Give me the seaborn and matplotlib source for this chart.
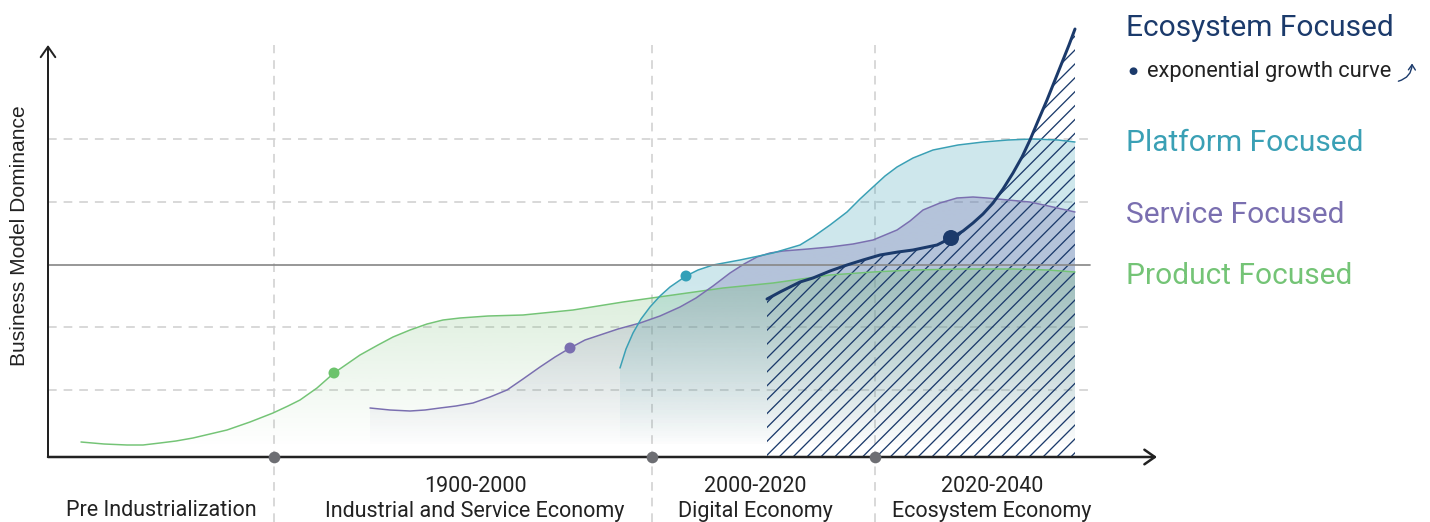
import numpy as np
import pandas as pd
import matplotlib
matplotlib.use("Agg")
import matplotlib.pyplot as plt
import seaborn as sns
from matplotlib.colors import to_rgb

# ---------------- data (timeline position, business-model dominance) ----------------
product_x = [33, 56, 79, 95, 112, 128, 145, 162, 179, 202, 225, 240, 252, 269, 286, 312,
             330, 345, 362, 379, 395, 412, 440, 475, 525, 575, 625, 675, 725, 782, 825,
             865, 915, 965, 1000, 1027]
product_y = [15, 13, 12, 12, 14, 16, 19, 23, 27, 35, 44, 51, 57, 69, 84, 102,
             112, 120, 127, 133, 137, 139, 141, 142, 147, 155, 162, 169, 174, 182, 185,
             187, 188, 188, 187, 185]

service_x = [322, 342, 362, 377, 392, 408, 425, 442, 459, 475, 492, 507, 522, 537, 552,
             570, 592, 612, 632, 648, 665, 682, 696, 709, 722, 735, 760, 782, 805, 825,
             849, 862, 875, 892, 909, 925, 939, 960, 982, 1005, 1027]
service_y = [49, 47, 46, 47, 49, 51, 54, 60, 67, 78, 90, 100, 109, 117, 122,
             128, 134, 141, 150, 159, 171, 184, 193, 200, 204, 206, 208, 210, 213, 217,
             227, 236, 247, 254, 259, 260, 259, 257, 255, 250, 245]

platform_x = [572, 578, 585, 593, 602, 612, 622, 638, 650, 665, 692, 725, 752, 765, 782,
              799, 812, 825, 837, 849, 865, 885, 910, 935, 960, 985, 1010, 1027]
platform_y = [89, 108, 124, 138, 150, 161, 170, 181, 187, 192, 197, 204, 212, 220, 232,
              245, 258, 270, 281, 290, 299, 307, 312, 315, 317, 318, 317, 315]

ecosystem_x = [719, 732, 752, 765, 782, 799, 815, 832, 850, 865, 889, 903, 915, 925, 935,
               945, 955, 965, 974, 982, 990, 999, 1007, 1015, 1021, 1027]
ecosystem_y = [158, 165, 175, 179, 186, 192, 197, 202, 205, 207, 212, 219, 226, 234, 243,
               254, 268, 284, 300, 317, 336, 357, 377, 397, 412, 428]

marker_series = ["Product", "Service", "Platform", "Ecosystem"]
marker_x = [286, 522, 638, 903]
marker_y = [84, 109, 181, 219]

era_bounds = [226, 604, 827]
era_years = ["", "1900-2000", "2000-2020", "2020-2040"]
era_names = ["Pre Industrialization", "Industrial and Service Economy",
             "Digital Economy", "Ecosystem Economy"]
grid_levels = [67, 130, 255, 318]
mid_level = 192

legend_labels = ["Ecosystem Focused", "Platform Focused", "Service Focused", "Product Focused"]
sub_label = "exponential growth curve"
y_label = "Business Model Dominance"

# ---------------- style ----------------
C_PROD = "#74c476"
C_SERV = "#7a6fb0"
C_PLAT = "#3aa0b5"
C_ECO = "#1b3a6b"
C_TXT = "#222222"

sns.set_theme(style="white")
plt.rcParams["font.family"] = ["Roboto", "DejaVu Sans"]
plt.rcParams["hatch.linewidth"] = 0.75

DPI = 125
W, H = 1430, 522
fig = plt.figure(figsize=(W / DPI, H / DPI), dpi=DPI)
L, R, T, B = 48, 1175, 15, 457
ax = fig.add_axes([L / W, (H - B) / H, (R - L) / W, (B - T) / H])
ax.set_xlim(0, R - L)
ax.set_ylim(0, B - T)
ax.axis("off")

X_END = 1109   # x axis arrow tip
Y_END = 412    # y axis arrow tip


def gradient_fill(xs, ys, color, amax, z):
    poly = ax.fill_between(xs, 0, ys, facecolor="none", edgecolor="none", zorder=z)
    n = 256
    yy = np.linspace(0, 442, n)
    a = amax * np.clip((yy - 10) / (175 - 10), 0, 1)
    img = np.zeros((n, 1, 4))
    img[:, 0, :3] = to_rgb(color)
    img[:, 0, 3] = a
    im = ax.imshow(img, extent=[min(xs), max(xs), 0, 442], origin="lower",
                   aspect="auto", zorder=z, interpolation="bilinear")
    im.set_clip_path(poly.get_paths()[0], ax.transData)


# grid
for lv in grid_levels:
    ax.plot([0, 1042], [lv, lv], color="#d4d4d4", lw=1.0, ls=(0, (5, 4)), zorder=0.5)
ax.plot([0, 1042], [mid_level, mid_level], color="#8a8a8a", lw=1.0, zorder=6)
for xb in era_bounds:
    ax.plot([xb, xb], [-65, Y_END], color="#d4d4d4", lw=1.0, ls=(0, (5, 4)),
            zorder=0.5, clip_on=False)

# fills
gradient_fill(platform_x, platform_y, C_PLAT, 0.25, 1)
gradient_fill(service_x, service_y, C_SERV, 0.30, 2)
gradient_fill(product_x, product_y, "#6cb86c", 0.25, 3)

# hatch under ecosystem curve
ax.fill_between(ecosystem_x, 0, ecosystem_y, facecolor="none", edgecolor=C_ECO,
                hatch="///", linewidth=0, zorder=4)

# lines
lw_thin = 1.5 * 72 / DPI
sns.lineplot(x=product_x, y=product_y, color=C_PROD, lw=lw_thin, ax=ax, zorder=5)
sns.lineplot(x=service_x, y=service_y, color=C_SERV, lw=lw_thin, ax=ax, zorder=5)
sns.lineplot(x=platform_x, y=platform_y, color=C_PLAT, lw=lw_thin, ax=ax, zorder=5)
sns.lineplot(x=ecosystem_x, y=ecosystem_y, color=C_ECO, lw=3 * 72 / DPI, ax=ax, zorder=7)

mk = pd.DataFrame({"series": marker_series, "x": marker_x, "y": marker_y})
pal = {"Product": "#6cc36c", "Service": C_SERV, "Platform": "#34a0b8", "Ecosystem": C_ECO}
sizes = {"Product": 40, "Service": 40, "Platform": 40, "Ecosystem": 85}
sns.scatterplot(data=mk, x="x", y="y", hue="series", palette=pal, size="series",
                sizes=sizes, linewidth=0, legend=False, ax=ax, zorder=8)

# axes arrows
ax.annotate("", xy=(X_END, 0), xytext=(0, 0),
            arrowprops=dict(arrowstyle="->,head_length=0.5,head_width=0.35",
                            color=C_TXT, lw=2.5 * 72 / DPI, shrinkA=0, shrinkB=0),
            zorder=9, annotation_clip=False)
ax.annotate("", xy=(0, Y_END), xytext=(0, 0),
            arrowprops=dict(arrowstyle="->,head_length=0.5,head_width=0.35",
                            color=C_TXT, lw=2 * 72 / DPI, shrinkA=0, shrinkB=0),
            zorder=9, annotation_clip=False)
sns.scatterplot(x=era_bounds, y=[0] * len(era_bounds), color="#6d6e73", s=45,
                linewidth=0, ax=ax, zorder=10, clip_on=False)

# texts
def fx(px):
    return px / W


def fy(py):
    return 1 - py / H


fs_bottom = 12.4
fig.text(fx(161), fy(511), era_names[0], ha="center", va="center", fontsize=fs_bottom, color=C_TXT)
for cx, yr, nm in zip([475, 755, 992], era_years[1:], era_names[1:]):
    fig.text(fx(cx), fy(486), yr, ha="center", va="center", fontsize=fs_bottom, color=C_TXT)
    fig.text(fx(cx), fy(511), nm, ha="center", va="center", fontsize=fs_bottom, color=C_TXT)

fig.text(fx(20), fy(236), y_label, rotation=90, ha="center", va="center",
         fontsize=12.1, color=C_TXT, family=["Liberation Sans", "DejaVu Sans"])

fs_leg = 17.2
leg_y = [28, 143, 215, 276]
leg_c = [C_ECO, C_PLAT, C_SERV, C_PROD]
for lab, yy, cc in zip(legend_labels, leg_y, leg_c):
    fig.text(fx(1126), fy(yy), lab, ha="left", va="center", fontsize=fs_leg, color=cc)
fig.text(fx(1133), fy(71), "\u25CF", ha="center", va="center", fontsize=6, color=C_ECO)
fig.text(fx(1147), fy(71), sub_label, ha="left", va="center", fontsize=12.6, color=C_TXT)
fig.patches.append(matplotlib.patches.FancyArrowPatch(
    (fx(1395), fy(82)), (fx(1412), fy(60)), transform=fig.transFigure,
    connectionstyle="arc3,rad=0.45", arrowstyle="->,head_length=3,head_width=2",
    color=C_ECO, lw=0.8, figure=fig))

fig.savefig("out.png", dpi=DPI)
